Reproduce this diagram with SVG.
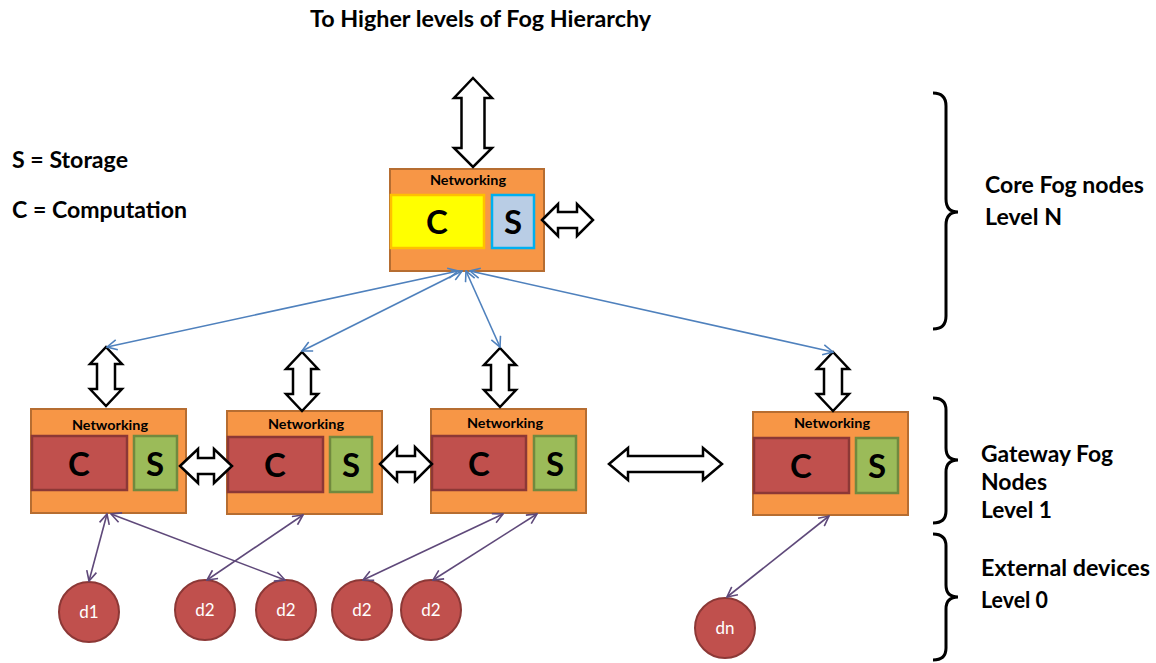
<svg xmlns="http://www.w3.org/2000/svg" width="1156" height="663" viewBox="0 0 1156 663">
<style>
text{font-family:Lato,"Liberation Sans",sans-serif;font-weight:bold;fill:#000}
.lbl{font-size:22px}
.net{font-size:13px;text-anchor:middle}
.big{font-size:33px;text-anchor:middle}
.dev{font-size:17px;font-weight:normal;fill:#fff;text-anchor:middle}
.node{fill:#F79646;stroke:#B66D31;stroke-width:2}
.cr{fill:#C0504D;stroke:#8C3836;stroke-width:2.5}
.sg{fill:#9BBB59;stroke:#71893F;stroke-width:2.5}
.blk{fill:#fff;stroke:#000;stroke-width:2.5;stroke-linejoin:miter}
.blue{stroke:#4F81BD;stroke-width:1.6;fill:none;marker-start:url(#ab);marker-end:url(#ab)}
.pur{stroke:#5F497A;stroke-width:1.6;fill:none;marker-start:url(#ap);marker-end:url(#ap)}
.dc{fill:#C0504D;stroke:#8C3836;stroke-width:2}
.brace{fill:none;stroke:#000;stroke-width:3}
</style>
<defs>
<marker id="ab" viewBox="0 0 12 12" refX="11" refY="6" markerWidth="12" markerHeight="12" markerUnits="userSpaceOnUse" orient="auto-start-reverse"><path d="M1,1 L11,6 L1,11" fill="none" stroke="#4F81BD" stroke-width="1.6"/></marker>
<marker id="ap" viewBox="0 0 12 12" refX="11" refY="6" markerWidth="12" markerHeight="12" markerUnits="userSpaceOnUse" orient="auto-start-reverse"><path d="M1,1 L11,6 L1,11" fill="none" stroke="#5F497A" stroke-width="1.6"/></marker>
</defs>
<rect width="1156" height="663" fill="#fff"/>

<text x="310" y="27" class="lbl" textLength="341" lengthAdjust="spacingAndGlyphs">To Higher levels of Fog Hierarchy</text>
<text x="12" y="168" class="lbl" textLength="116" lengthAdjust="spacingAndGlyphs">S = Storage</text>
<text x="12" y="218" class="lbl" textLength="175" lengthAdjust="spacingAndGlyphs">C = Computation</text>

<g id="core">
<rect x="390" y="169" width="154" height="102" class="node"/>
<text x="468" y="185" class="net" textLength="76" lengthAdjust="spacingAndGlyphs">Networking</text>
<rect x="391" y="195" width="93" height="53" fill="#FFFF00" stroke="#FFC000" stroke-width="2.5"/>
<text x="437" y="234" class="big">C</text>
<rect x="492" y="195" width="42" height="53" fill="#B9CDE5" stroke="#00B0F0" stroke-width="2.5"/>
<text x="513" y="234" class="big">S</text>
</g>

<g id="gw1">
<rect x="31" y="409" width="155" height="104" class="node"/>
<text x="110" y="430" class="net" textLength="76" lengthAdjust="spacingAndGlyphs">Networking</text>
<rect x="32" y="436" width="95" height="54" class="cr"/>
<text x="79" y="476" class="big">C</text>
<rect x="134" y="436" width="43" height="54" class="sg"/>
<text x="155" y="476" class="big">S</text>
</g>
<g id="gw2">
<rect x="227" y="411" width="155" height="103" class="node"/>
<text x="306" y="429" class="net" textLength="76" lengthAdjust="spacingAndGlyphs">Networking</text>
<rect x="228" y="437" width="95" height="55" class="cr"/>
<text x="275" y="477" class="big">C</text>
<rect x="330" y="437" width="42" height="55" class="sg"/>
<text x="351" y="477" class="big">S</text>
</g>
<g id="gw3">
<rect x="431" y="409" width="155" height="104" class="node"/>
<text x="505" y="428" class="net" textLength="76" lengthAdjust="spacingAndGlyphs">Networking</text>
<rect x="432" y="436" width="94" height="54" class="cr"/>
<text x="479" y="476" class="big">C</text>
<rect x="534" y="436" width="42" height="54" class="sg"/>
<text x="555" y="476" class="big">S</text>
</g>
<g id="gw4">
<rect x="753" y="412" width="155" height="103" class="node"/>
<text x="832" y="428" class="net" textLength="76" lengthAdjust="spacingAndGlyphs">Networking</text>
<rect x="754" y="438" width="95" height="55" class="cr"/>
<text x="801" y="478" class="big">C</text>
<rect x="856" y="438" width="42" height="55" class="sg"/>
<text x="877" y="478" class="big">S</text>
</g>

<g id="devices">
<g id="d1"><circle cx="89" cy="612" r="30" class="dc"/><text x="89" y="618" class="dev">d1</text></g>
<g id="d2a"><circle cx="205" cy="610" r="30" class="dc"/><text x="205" y="616" class="dev">d2</text></g>
<g id="d2b"><circle cx="286" cy="610" r="30" class="dc"/><text x="286" y="616" class="dev">d2</text></g>
<g id="d2c"><circle cx="362" cy="610" r="30" class="dc"/><text x="362" y="616" class="dev">d2</text></g>
<g id="d2d"><circle cx="431" cy="610" r="30" class="dc"/><text x="431" y="616" class="dev">d2</text></g>
<g id="dn"><circle cx="725" cy="628" r="30" class="dc"/><text x="725" y="634" class="dev">dn</text></g>
</g>

<g id="connectors">
<path class="blk" d="M473,78 L492,98 L484.5,98 L484.5,148 L492,148 L473,167 L454,148 L461.5,148 L461.5,98 L454,98 Z"/>
<path class="blk" d="M542,220 L558,204 L558,212 L577,212 L577,204 L593,220 L577,236 L577,228 L558,228 L558,236 Z"/>
<path class="blk" d="M106,347 L122,364 L115,364 L115,389 L122,389 L106,406 L90,389 L97,389 L97,364 L90,364 Z"/>
<path class="blk" d="M302,352 L318,369 L311,369 L311,394 L318,394 L302,411 L286,394 L293,394 L293,369 L286,369 Z"/>
<path class="blk" d="M500,348 L516,365 L509,365 L509,390 L516,390 L500,407 L484,390 L491,390 L491,365 L484,365 Z"/>
<path class="blk" d="M833,352 L849,369 L842,369 L842,394 L849,394 L833,411 L817,394 L824,394 L824,369 L817,369 Z"/>
<path class="blk" d="M180,466 L198,449 L198,458 L214,458 L214,449 L232,466 L214,483 L214,474 L198,474 L198,483 Z"/>
<path class="blk" d="M380,464 L397,447 L397,456 L415,456 L415,447 L432,464 L415,481 L415,472 L397,472 L397,481 Z"/>
<path class="blk" d="M609,464 L628,448 L628,456 L703,456 L703,448 L722,464 L703,480 L703,472 L628,472 L628,480 Z"/>

<line class="blue" x1="458" y1="271" x2="107" y2="347"/>
<line class="blue" x1="462" y1="271" x2="302" y2="351"/>
<line class="blue" x1="466" y1="271" x2="500" y2="347"/>
<line class="blue" x1="470" y1="271" x2="833" y2="352"/>

<line class="pur" x1="107" y1="514" x2="89" y2="581"/>
<line class="pur" x1="111" y1="514" x2="285" y2="580"/>
<line class="pur" x1="303" y1="515" x2="207" y2="580"/>
<line class="pur" x1="503" y1="514" x2="363" y2="580"/>
<line class="pur" x1="537" y1="514" x2="433" y2="580"/>
<line class="pur" x1="829" y1="516" x2="727" y2="597"/>
</g>

<g id="levels">
<path class="brace" d="M933,93 Q946,93 946,106 L946,199 Q946,212 958,212 Q946,212 946,225 L946,316 Q946,329 933,329"/>
<path class="brace" d="M933,398 Q946,398 946,410 L946,448 Q946,460 958,460 Q946,460 946,472 L946,511 Q946,523 933,523"/>
<path class="brace" d="M933,534 Q946,534 946,546 L946,585 Q946,597 958,597 Q946,597 946,609 L946,648 Q946,660 933,660"/>
<text x="985" y="193" class="lbl" textLength="159" lengthAdjust="spacingAndGlyphs">Core Fog nodes</text>
<text x="985" y="225" class="lbl" textLength="77" lengthAdjust="spacingAndGlyphs">Level N</text>
<text x="981" y="462" class="lbl" textLength="132" lengthAdjust="spacingAndGlyphs">Gateway Fog</text>
<text x="981" y="490" class="lbl" textLength="66" lengthAdjust="spacingAndGlyphs">Nodes</text>
<text x="981" y="518" class="lbl" textLength="71" lengthAdjust="spacingAndGlyphs">Level 1</text>
<text x="981" y="576" class="lbl" textLength="169" lengthAdjust="spacingAndGlyphs">External devices</text>
<text x="981" y="608" class="lbl" textLength="67" lengthAdjust="spacingAndGlyphs">Level 0</text>
</g>
</svg>
